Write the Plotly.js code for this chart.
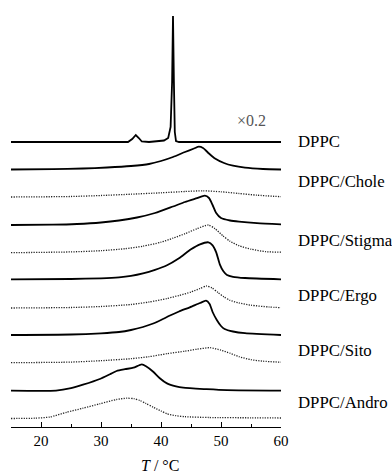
<!DOCTYPE html>
<html>
<head>
<meta charset="utf-8">
<script src="https://cdn.plot.ly/plotly-3.0.1.min.js"></script>
<style>html,body{margin:0;padding:0;background:#fff;}#chart{width:392px;height:473px;}</style>
</head>
<body>
<div id="chart"></div>
<script>
// Sample labels (right side)
const sampleLabels = ["DPPC", "DPPC/Chole", "DPPC/Stigma", "DPPC/Ergo", "DPPC/Sito", "DPPC/Andro"];
const labelLevels = [286, 246, 186.5, 131.5, 77, 25];
const scaleNote = "×0.2";

// Curves: temperature (°C) and excess heat capacity (arbitrary units, above own baseline)
const tDPPC = [15, 34.5, 35.2, 35.8, 36.3, 36.8, 38, 39.5, 40.5, 41.2, 41.6, 41.85, 42.0, 42.15, 42.3, 42.5, 43, 60];
const hDPPC = [0, 0, 3, 7, 4, 0.5, 0, 0.5, 1.5, 4, 15, 60, 126, 60, 10, 1, 0, 0];

const tCholeS = [15, 22, 27, 31, 35, 38, 40, 42, 44, 45.5, 46.3, 47, 48, 49, 50.5, 52, 54, 57, 60];
const hCholeS = [0, 0.3, 1, 2, 3.5, 5.5, 8.5, 12.5, 17.5, 21, 22.8, 21.5, 16, 11, 6.5, 3.8, 1.8, 0.5, 0];
const tCholeD = [15, 25, 30, 35, 40, 44, 47, 50, 53, 56, 60];
const hCholeD = [0, 0.5, 1.5, 2.8, 4.2, 5.5, 6.2, 5.2, 3.5, 1.8, 0.3];

const tStigmaS = [15, 22, 26, 30, 33, 36, 39, 42, 44, 46, 47.3, 48, 48.6, 49.2, 50, 51.5, 53, 56, 60];
const hStigmaS = [0, 0.3, 1, 2.5, 4.5, 7.5, 12, 18.5, 23, 26.8, 29.3, 27, 20, 12, 7, 4.5, 3.3, 1.8, 0.7];
const tStigmaD = [15, 25, 30, 34, 37, 40, 42, 44, 46, 47.9, 49, 50.3, 51.5, 53, 55, 57.5, 60];
const hStigmaD = [0, 0.8, 2, 4, 6.5, 10.5, 14.5, 19, 24, 27.7, 24, 17, 11.5, 7, 3.5, 1, 0.5];

const tErgoS = [15, 25, 30, 33, 35, 37, 39, 41, 43, 45, 46.5, 47.9, 48.6, 49.2, 49.8, 50.4, 51, 52, 54, 60];
const hErgoS = [0, 0.3, 1, 2, 3.5, 6, 9.5, 14, 21, 30, 35, 37, 34, 27, 15, 8, 4.3, 2.5, 1.3, 0];
const tErgoD = [15, 25, 30, 35, 38, 41, 43, 45, 46.5, 47.6, 48.5, 49.5, 50.5, 51.5, 53, 55, 58, 60];
const hErgoD = [0, 0.5, 1.5, 3.5, 6, 9.5, 12.5, 16, 19.5, 22, 20, 15.5, 11, 7.7, 5, 2.8, 1, 0.3];

const tSitoS = [15, 25, 30, 33, 35, 37, 38.7, 40, 41.5, 43, 44.8, 46.5, 47.5, 48.1, 48.6, 49.3, 50, 50.6, 52, 54, 60];
const hSitoS = [0, 0.5, 1.7, 3, 5, 8, 11.5, 15, 19.5, 23.5, 27.7, 32, 34.3, 31, 23, 15, 9, 6, 3.5, 1.8, 0];
const tSitoD = [15, 25, 30, 35, 38, 41, 44, 46, 48.2, 50, 51.5, 53, 55, 57, 60];
const hSitoD = [0, 0.6, 2, 4, 6, 9, 11.5, 13.5, 15, 12.5, 9.5, 6, 3, 1.5, 0.5];

const tAndroS = [15, 22.5, 25, 27, 29.8, 31.5, 32.6, 34, 35.4, 36.8, 37.5, 38.7, 39.8, 41, 42.5, 43.7, 47.6, 51, 60];
const hAndroS = [0, 0, 2.5, 6, 11.7, 16.5, 19.7, 21.5, 23, 26.3, 24.5, 19, 12.5, 7.3, 4.3, 3, 1.5, 0.5, 0];
const tAndroD = [15, 19, 21.5, 24.3, 27, 29.8, 32.6, 34.3, 35.5, 36.5, 37.5, 38.7, 40, 41, 42.5, 44, 48, 55, 60];
const hAndroD = [0, 0.3, 1.5, 6.3, 10.3, 14.7, 19, 20.3, 19.8, 18, 15, 11.3, 7.5, 4.7, 2.8, 1.8, 1, 0.7, 0.5];

// vertical stacking offsets of each curve's baseline
const baselineOffsets = [285, 257.5, 230, 202, 174.3, 147.7, 119, 92, 64.3, 36.3, 8.5];

const curves = [
  [tDPPC, hDPPC, false],
  [tCholeS, hCholeS, false], [tCholeD, hCholeD, true],
  [tStigmaS, hStigmaS, false], [tStigmaD, hStigmaD, true],
  [tErgoS, hErgoS, false], [tErgoD, hErgoD, true],
  [tSitoS, hSitoS, false], [tSitoD, hSitoD, true],
  [tAndroS, hAndroS, false], [tAndroD, hAndroD, true]
];

const traces = curves.map((c, i) => ({
  type: 'scatter', mode: 'lines',
  x: c[0], y: c[1].map(v => v + baselineOffsets[i]),
  line: Object.assign(
    c[2] ? {color: '#222', width: 1.3, dash: '1.2px,1.3px'} : {color: '#000', width: 1.8},
    i === 0 ? {shape: 'linear'} : {shape: 'spline', smoothing: 0.6}),
  hoverinfo: 'skip', showlegend: false
}));

const serif = 'Liberation Serif, Times New Roman, serif';
const annotations = sampleLabels.map((s, i) => ({
  text: s, xref: 'paper', yref: 'y', x: 1.0556, y: labelLevels[i],
  xanchor: 'left', yanchor: 'middle', showarrow: false,
  font: {family: serif, size: 16.8, color: '#000'}
}));
annotations.push({text: scaleNote, xref: 'x', yref: 'y', x: 55, y: 307, xanchor: 'center', yanchor: 'middle',
  showarrow: false, font: {family: serif, size: 16, color: '#555'}});
annotations.push({text: '<i>T</i> / °C', xref: 'x', yref: 'paper', x: 39.8, y: 0, yshift: -38,
  xanchor: 'center', yanchor: 'middle', showarrow: false, font: {family: serif, size: 16, color: '#000'}});

const layout = {
  width: 392, height: 473,
  margin: {l: 11, r: 111, t: 0, b: 46},
  paper_bgcolor: '#fff', plot_bgcolor: '#fff',
  xaxis: {
    range: [15, 60], tick0: 0, dtick: 10, ticks: 'inside', ticklen: 5, tickwidth: 1, tickcolor: '#000',
    showline: true, linecolor: '#000', linewidth: 1, showgrid: false, zeroline: false,
    tickfont: {family: serif, size: 15, color: '#000'},
    minor: {dtick: 5, ticks: 'inside', ticklen: 3, tickcolor: '#000', showgrid: false}
  },
  yaxis: {range: [0, 427], visible: false, showgrid: false, zeroline: false},
  annotations: annotations
};

Plotly.newPlot('chart', traces, layout, {displayModeBar: false, staticPlot: true});
</script>
</body>
</html>
